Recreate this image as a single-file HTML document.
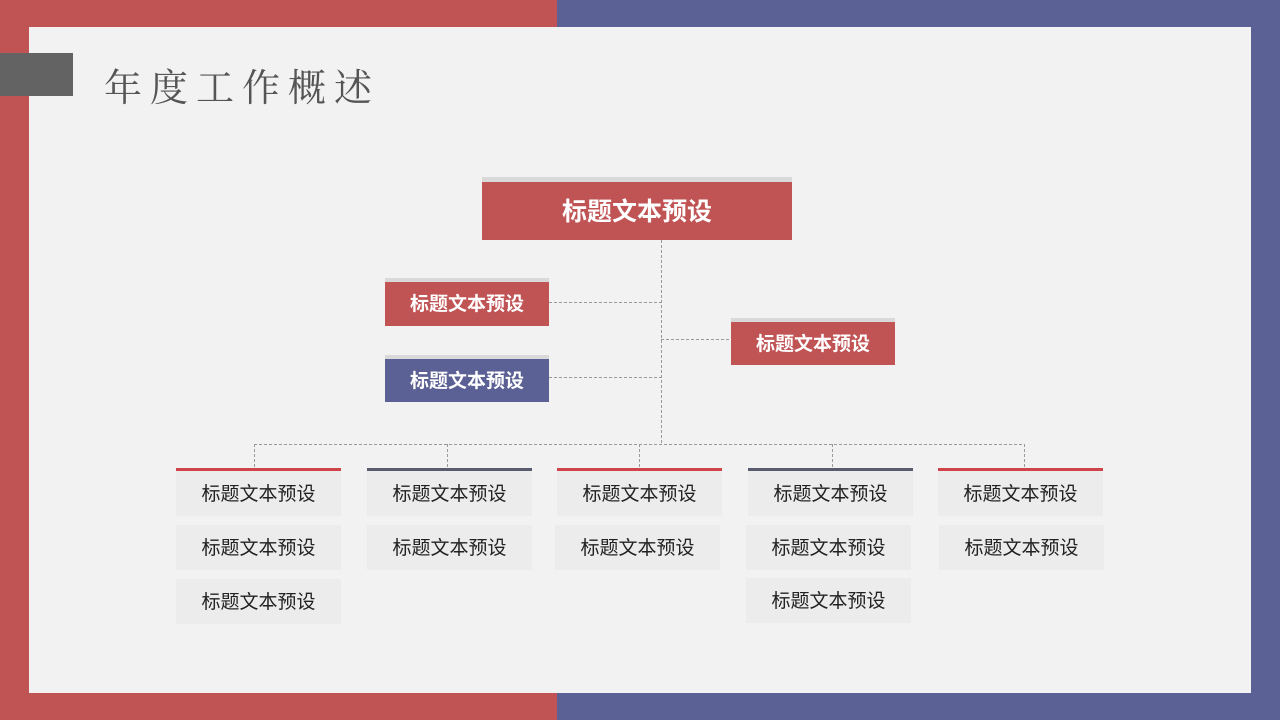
<!DOCTYPE html>
<html><head><meta charset="utf-8"><style>
*{margin:0;padding:0;box-sizing:border-box}
body{width:1280px;height:720px;position:relative;overflow:hidden;background:#f2f2f2;font-family:"Liberation Sans","Noto Sans CJK SC",sans-serif}
.a{position:absolute}
.hb{position:absolute;color:#fff;font-weight:bold;display:flex;align-items:center;justify-content:center;padding-bottom:3px}
.sb{position:absolute;background:#ececec;color:#222;font-size:19px;display:flex;align-items:center;justify-content:center;width:165px;height:45px;padding-bottom:3px}
.bar{position:absolute;height:4px;width:165px}
</style></head><body>
<div class="a" style="left:0;top:0;width:557px;height:720px;background:#c05354"></div>
<div class="a" style="left:557px;top:0;width:723px;height:720px;background:#5b6194"></div>
<div class="a" style="left:29px;top:27px;width:1222px;height:666px;background:#f2f2f2"></div>
<div class="a" style="left:0;top:53px;width:73px;height:43px;background:#636363"></div>
<div class="a" style="left:104px;top:57px;font-size:38px;color:#555;letter-spacing:8px;font-family:'Liberation Serif','Noto Serif CJK SC',serif">年度工作概述</div>

<svg class="a" style="left:0;top:0" width="1280" height="720">
<g stroke="#999" stroke-width="1" stroke-dasharray="3,2" fill="none">
<path d="M661.5 240V444M549 302.5H661M549 377.5H661M661 339.5H731M254 444.5H1024M254.5 444V468M447.5 444V468M639.5 444V468M832.5 444V468M1024.5 444V468"/>
</g></svg>

<div class="a" style="left:482px;top:177px;width:310px;height:5px;background:#d9d9d9"></div>
<div class="hb" style="left:482px;top:182px;width:310px;height:58px;background:#c05354;font-size:25px">标题文本预设</div>
<div class="a" style="left:385px;top:278px;width:164px;height:4px;background:#d9d9d9"></div>
<div class="hb" style="left:385px;top:282px;width:164px;height:44px;background:#c05354;font-size:19px">标题文本预设</div>
<div class="a" style="left:385px;top:355px;width:164px;height:4px;background:#d9d9d9"></div>
<div class="hb" style="left:385px;top:359px;width:164px;height:43px;background:#5b6194;font-size:19px">标题文本预设</div>
<div class="a" style="left:731px;top:318px;width:164px;height:4px;background:#d9d9d9"></div>
<div class="hb" style="left:731px;top:322px;width:164px;height:43px;background:#c05354;font-size:19px">标题文本预设</div>

<div class="bar" style="left:176px;top:468px;background:#d04348"></div>
<div class="sb" style="left:176px;top:471px">标题文本预设</div>
<div class="sb" style="left:176px;top:525px">标题文本预设</div>
<div class="sb" style="left:176px;top:579px">标题文本预设</div>

<div class="bar" style="left:367px;top:468px;background:#595b6e"></div>
<div class="sb" style="left:367px;top:471px">标题文本预设</div>
<div class="sb" style="left:367px;top:525px">标题文本预设</div>

<div class="bar" style="left:557px;top:468px;background:#d04348"></div>
<div class="sb" style="left:557px;top:471px">标题文本预设</div>
<div class="sb" style="left:555px;top:525px">标题文本预设</div>

<div class="bar" style="left:748px;top:468px;background:#595b6e"></div>
<div class="sb" style="left:748px;top:471px">标题文本预设</div>
<div class="sb" style="left:746px;top:525px">标题文本预设</div>
<div class="sb" style="left:746px;top:578px">标题文本预设</div>

<div class="bar" style="left:938px;top:468px;background:#d04348"></div>
<div class="sb" style="left:938px;top:471px">标题文本预设</div>
<div class="sb" style="left:939px;top:525px">标题文本预设</div>
</body></html>
